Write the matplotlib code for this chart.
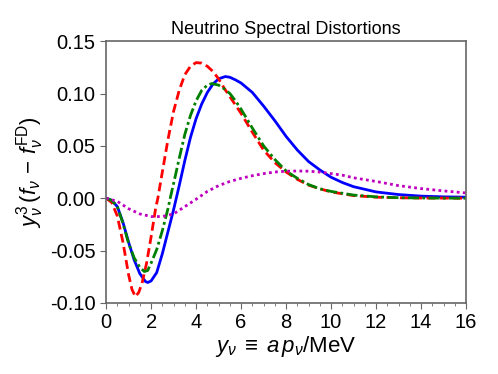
import numpy as np
import matplotlib
matplotlib.use("Agg")
import matplotlib.pyplot as plt
from matplotlib.ticker import MultipleLocator

plt.rcParams['font.family'] = ['Liberation Sans', 'DejaVu Sans']
plt.rcParams['mathtext.fontset'] = 'custom'
plt.rcParams['mathtext.rm'] = 'Liberation Sans'
plt.rcParams['mathtext.it'] = 'Liberation Sans:italic'

# values
x_blue = [0, 0.25, 0.5, 0.75, 1.0, 1.25, 1.5, 1.75, 1.85, 2.0, 2.25, 2.5, 2.75, 3.0, 3.25,
          3.5, 3.75, 4.0, 4.25, 4.5, 4.75, 5.0, 5.3, 5.5, 5.75, 6.0, 6.5, 7.0, 7.5, 8.0,
          8.5, 9.0, 9.5, 10.0, 10.5, 11.0, 11.5, 12.0, 13.0, 14.0, 15.0, 16.0]
y_blue = [0, -0.002, -0.008, -0.023, -0.042, -0.059, -0.072, -0.0795, -0.0805, -0.079,
          -0.071, -0.053, -0.032, -0.011, 0.012, 0.036, 0.058, 0.076, 0.090, 0.101, 0.109,
          0.114, 0.1162, 0.1155, 0.113, 0.110, 0.101, 0.088, 0.074, 0.059, 0.046, 0.035,
          0.027, 0.020, 0.015, 0.011, 0.0085, 0.006, 0.0035, 0.002, 0.0013, 0.001]

x_red = [0, 0.25, 0.5, 0.75, 1.0, 1.15, 1.3, 1.45, 1.6, 1.8, 2.0, 2.2, 2.3, 2.5, 2.75,
         3.0, 3.25, 3.5, 3.75, 4.0, 4.25, 4.5, 4.75, 5.0, 5.25, 5.5, 5.75, 6.0, 6.5, 7.0,
         7.5, 8.0, 8.5, 9.0, 9.5, 10.0, 11.0, 12.0, 13.0, 14.0, 16.0]
y_red = [0, -0.004, -0.017, -0.042, -0.073, -0.087, -0.094, -0.090, -0.081, -0.062,
         -0.037, -0.010, 0.0, 0.025, 0.056, 0.083, 0.103, 0.118, 0.126, 0.1295, 0.129,
         0.126, 0.121, 0.114, 0.105, 0.097, 0.089, 0.081, 0.063, 0.046, 0.034, 0.025,
         0.018, 0.0125, 0.009, 0.006, 0.0025, 0.001, 0.0004, 0.0002, 0.0]

x_green = [0, 0.25, 0.5, 0.75, 1.0, 1.25, 1.5, 1.7, 1.85, 2.0, 2.25, 2.5, 2.75, 2.85,
           3.0, 3.25, 3.5, 3.75, 4.0, 4.25, 4.5, 4.7, 5.0, 5.25, 5.5, 5.75, 6.0, 6.5,
           7.0, 7.5, 8.0, 8.5, 9.0, 9.5, 10.0, 11.0, 12.0, 13.0, 14.0, 16.0]
y_green = [0, -0.002, -0.008, -0.024, -0.043, -0.057, -0.066, -0.070, -0.069, -0.062,
           -0.049, -0.031, -0.010, 0.0, 0.014, 0.038, 0.061, 0.079, 0.093, 0.103, 0.108,
           0.1095, 0.108, 0.1045, 0.100, 0.093, 0.085, 0.067, 0.050, 0.037, 0.026,
           0.019, 0.013, 0.009, 0.0065, 0.003, 0.0013, 0.0005, 0.0002, 0.0]

x_mag = [0, 0.5, 1.0, 1.5, 2.0, 2.5, 3.0, 3.5, 4.0, 4.5, 5.0, 5.5, 6.0, 6.5, 7.0, 7.5,
         8.0, 8.5, 9.0, 9.5, 10.0, 10.5, 11.0, 12.0, 13.0, 14.0, 15.0, 16.0]
y_mag = [0, -0.003, -0.010, -0.015, -0.0175, -0.0175, -0.015, -0.008, -0.001, 0.0065,
         0.012, 0.016, 0.019, 0.0215, 0.0235, 0.025, 0.0258, 0.026, 0.0258, 0.025,
         0.0235, 0.022, 0.0195, 0.016, 0.012, 0.0092, 0.007, 0.005]

fig = plt.figure(figsize=(4.98, 3.74), dpi=100)
ax = fig.add_axes([0.213, 0.19, 0.723, 0.70])

ax.plot(x_blue, y_blue, color='b', lw=2, ls='-')
ax.plot(x_red, y_red, color='r', lw=2, ls=(0, (3.2, 1.6)))
ax.plot(x_green, y_green, color='g', lw=2, ls=(0, (4, 1.2, 1, 1.2)))
ax.plot(x_mag, y_mag, color='m', lw=2, ls=(0, (1, 1.2)))

ax.set_xlim(0, 16)
ax.set_ylim(-0.10, 0.15)
ax.xaxis.set_major_locator(MultipleLocator(2))
ax.xaxis.set_minor_locator(MultipleLocator(0.5))
ax.yaxis.set_major_locator(MultipleLocator(0.05))
ax.set_yticklabels(['%.2f' % v for v in ax.get_yticks()])

for s in ax.spines.values():
    s.set_color('#666666')
    s.set_linewidth(1.2)
ax.tick_params(which='both', direction='out', colors='#666666', labelcolor='black',
               labelsize=14.5, top=False, right=False)
ax.tick_params(which='major', length=4)
ax.tick_params(which='minor', length=2.5)

ax.set_title('Neutrino Spectral Distortions', fontsize=13, pad=5)
ax.set_xlabel(r'$y_\nu \;\equiv\; a\,p_\nu/\mathrm{MeV}$', fontsize=16, labelpad=1)
ax.set_ylabel(r'$y_\nu^3\,(f_\nu \,-\, f_\nu^{\mathrm{FD}})$', fontsize=16, labelpad=3)

fig.savefig('out.png', dpi=100)
